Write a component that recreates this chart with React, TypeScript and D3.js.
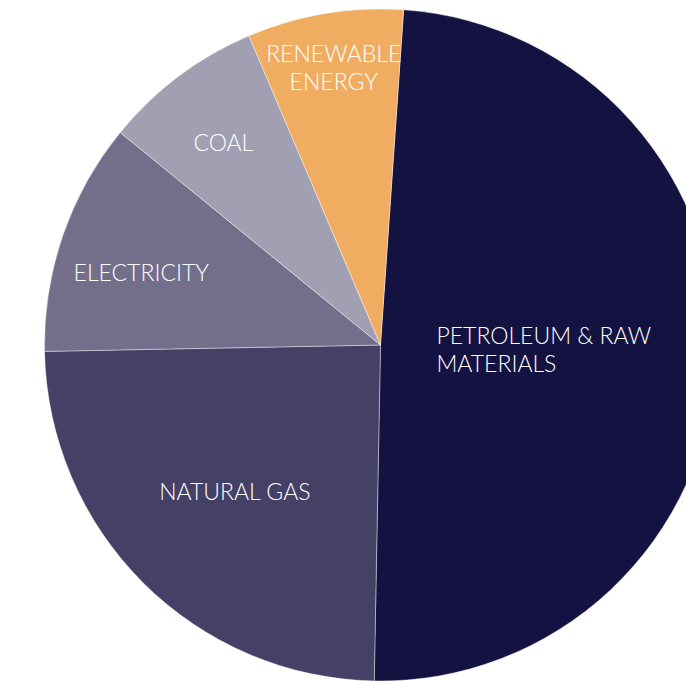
import React from "react";
import * as d3 from "d3";

const categories = ["PETROLEUM & RAW MATERIALS", "NATURAL GAS", "ELECTRICITY", "COAL", "RENEWABLE ENERGY"];
const values = [49.2, 24.4, 11.2, 7.7, 7.5];
const labelLines = [["PETROLEUM & RAW", "MATERIALS"], ["NATURAL GAS"], ["ELECTRICITY"], ["COAL"], ["RENEWABLE", "ENERGY"]];
const colors = ["#141241", "#454066", "#736f8b", "#a1a0b2", "#f0ad62"];

const W = 686;
const H = 681;
const cx = 380.5;
const cy = 345;
const R = 336;
const startDeg = 3.95;
const labelR = [166, 206, 250, 257, 282];
const labelShiftDeg = [-1, 0, -2.2, -0.8, 0];

export default function App() {
  const data = categories.map((c, i) => ({ c, v: values[i], i }));
  const start = (startDeg * Math.PI) / 180;
  const pie = d3
    .pie<any>()
    .value((d) => d.v)
    .sort(null)
    .startAngle(start)
    .endAngle(start + 2 * Math.PI);
  const arcs = pie(data);
  const arc = d3.arc<any>().innerRadius(0).outerRadius(R);
  const fs = 23;
  const lh = 28;
  return (
    <svg width={W} height={H} style={{ position: "absolute", left: 0, top: 0 }}>
      <rect width={W} height={H} fill="#fff" />
      <g transform={`translate(${cx},${cy})`}>
        {arcs.map((a, i) => (
          <path key={i} d={arc(a) || ""} fill={colors[i]} stroke="#ffffff" strokeWidth={0.4} />
        ))}
        {arcs.map((a, i) => {
          const mid = (a.startAngle + a.endAngle) / 2 + (labelShiftDeg[i] * Math.PI) / 180;
          const lr = labelR[i];
          const x = Math.sin(mid) * lr;
          const y = -Math.cos(mid) * lr;
          const lines = labelLines[i];
          const isFirst = i === 0;
          const tx = isFirst ? x - 110 : x;
          return (
            <text
              key={i}
              x={tx}
              y={y}
              fill="#ffffff"
              fontFamily="Lato, 'Open Sans', sans-serif"
              fontWeight={300}
              fontSize={fs}
              textAnchor={isFirst ? "start" : "middle"}
            >
              {lines.map((l, j) => (
                <tspan key={j} x={tx} y={y + (j - (lines.length - 1) / 2) * lh} dominantBaseline="central">
                  {l}
                </tspan>
              ))}
            </text>
          );
        })}
      </g>
    </svg>
  );
}
